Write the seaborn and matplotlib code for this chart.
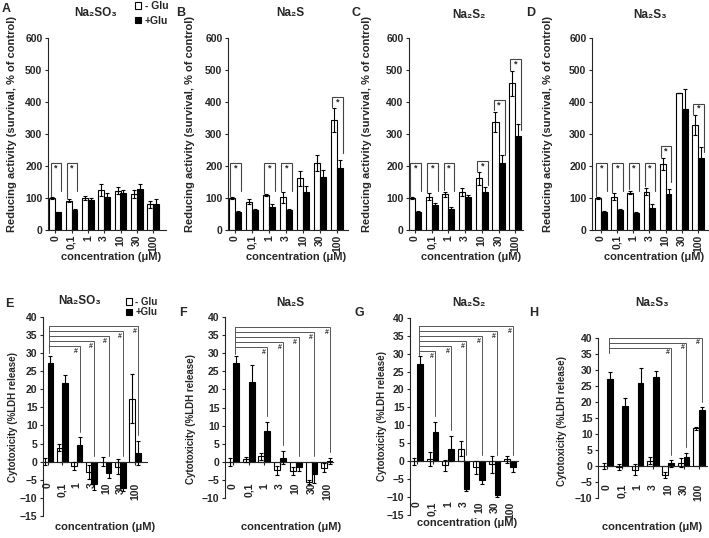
import matplotlib
matplotlib.use("Agg")
import matplotlib.pyplot as plt
from matplotlib.patches import Patch
import numpy as np
import pandas as pd
import seaborn as sns

FIG_W, FIG_H = 709, 538

concs = ["0", "0,1", "1", "3", "10", "30", "100"]
glu_levels = ["- Glu", "+Glu"]

# A-D: reducing activity (survival, % of control)
a_minus = [100, 92, 101, 125, 123, 112, 81]
a_minus_err = [2, 5, 6, 18, 10, 12, 11]
a_plus = [55, 62, 94, 104, 117, 127, 81]
a_plus_err = [2, 5, 7, 13, 8, 16, 15]

b_minus = [100, 88, 109, 102, 161, 209, 343]
b_minus_err = [2, 8, 4, 17, 24, 24, 37]
b_plus = [57, 63, 71, 62, 120, 165, 194]
b_plus_err = [3, 4, 10, 3, 16, 22, 25]

c_minus = [100, 104, 112, 119, 161, 338, 458]
c_minus_err = [2, 11, 8, 12, 19, 32, 39]
c_plus = [57, 78, 67, 104, 120, 209, 294]
c_plus_err = [3, 7, 5, 5, 15, 25, 37]

d_minus = [100, 104, 117, 120, 206, 429, 328]
d_minus_err = [2, 11, 6, 12, 19, 0, 31]
d_plus = [56, 62, 52, 70, 112, 377, 225]
d_plus_err = [3, 5, 4, 12, 15, 65, 35]

# E-H: cytotoxicity (%LDH release)
e_minus = [0, 3.9, -1.2, -2.8, 0, -1.4, 17.4]
e_minus_err = [1, 1, 1, 2, 1.3, 2, 6.8]
e_plus = [27.2, 21.8, 4.6, -6.1, -3.0, -7.3, 2.5]
e_plus_err = [2, 2.2, 2.1, 1.7, 1.6, 0.9, 3.3]

f_minus = [0, 0.7, 1.6, -2.3, -2.5, -5.5, -1.6]
f_minus_err = [1, 0.8, 1, 1.2, 1, 0.5, 1.2]
f_plus = [27.2, 22.0, 8.5, 1.2, -1.4, -3.4, 0.3]
f_plus_err = [2, 4.8, 2.5, 1.8, 1, 2.3, 0.8]

g_minus = [0, 0.7, -1.2, 3.5, -1.7, -0.9, 0.5]
g_minus_err = [1, 2, 1.4, 2, 1.8, 2.4, 1]
g_plus = [27.2, 8.1, 3.5, -7.7, -5.3, -9.3, -1.6]
g_plus_err = [2, 2.9, 3.5, 0.6, 1, 0.8, 1.5]

h_minus = [0, -0.3, -1.2, 1.6, -2.8, 1.0, 11.7]
h_minus_err = [1, 0.9, 1.6, 1.2, 0.9, 1.4, 0.5]
h_plus = [27.2, 18.8, 26.0, 27.8, 0.7, 2.8, 17.5]
h_plus_err = [2, 2.4, 4.6, 1.8, 1.0, 1.3, 0.7]

titles = {"A": "Na₂SO₃", "B": "Na₂S", "C": "Na₂S₂", "D": "Na₂S₃",
          "E": "Na₂SO₃", "F": "Na₂S", "G": "Na₂S₂", "H": "Na₂S₃"}

# significance: * (-Glu vs +Glu), # (+Glu vs +Glu at 0)
star_groups = {"A": ["0", "0,1"], "B": ["0", "1", "3", "100"],
               "C": ["0", "0,1", "1", "10", "30", "100"],
               "D": ["0", "0,1", "1", "3", "10", "100"]}
hash_groups = {"E": ["1", "3", "10", "30", "100"],
               "F": ["1", "3", "10", "30", "100"],
               "G": ["0,1", "1", "3", "10", "30", "100"],
               "H": ["10", "30", "100"]}

panels = {
    "A": (a_minus, a_minus_err, a_plus, a_plus_err),
    "B": (b_minus, b_minus_err, b_plus, b_plus_err),
    "C": (c_minus, c_minus_err, c_plus, c_plus_err),
    "D": (d_minus, d_minus_err, d_plus, d_plus_err),
    "E": (e_minus, e_minus_err, e_plus, e_plus_err),
    "F": (f_minus, f_minus_err, f_plus, f_plus_err),
    "G": (g_minus, g_minus_err, g_plus, g_plus_err),
    "H": (h_minus, h_minus_err, h_plus, h_plus_err),
}

# pixel layout: axis left, first group centre, group spacing, axis right, top px, bottom px, ylim
layout = {
    "A": (48, 55.3, 16.3, 166, 38, 230, (0, 600)),
    "B": (228, 235, 17.0, 348, 38, 230, (0, 600)),
    "C": (409, 415, 16.7, 523, 38, 230, (0, 600)),
    "D": (592, 600.8, 16.2, 708, 38, 230, (0, 600)),
    "E": (43, 47.7, 14.55, 147, 316.7, 516, (-15, 40)),
    "F": (225, 233, 15.7, 333, 316.7, 498.3, (-10, 40)),
    "G": (410, 417, 15.5, 518, 317.7, 515, (-15, 40)),
    "H": (598, 607, 15.3, 707, 337.7, 497.7, (-10, 40)),
}
xtick_pad = {"A": 1.5, "B": 1.5, "C": 1.5, "D": 1.5, "E": 13, "F": 13, "G": 27, "H": 11}
hash_top = {"E": 37.3, "F": 37.1, "G": 37.7, "H": 40.0}

letter_pos = {"A": (6, 9), "B": (181, 13), "C": (356, 13), "D": (531, 13),
              "E": (9, 304), "F": (183, 313), "G": (359, 313), "H": (534, 313)}
title_pos = {"A": (96, 13), "B": (290, 13), "C": (469, 15), "D": (650, 15),
             "E": (80, 301), "F": (290, 303), "G": (469, 303), "H": (652, 303)}
ylabel_pos = {"A": (12, 124), "B": (190, 124), "C": (367, 124), "D": (548, 124),
              "E": (13, 417), "F": (191, 419), "G": (382, 416), "H": (562, 421)}
xlabel_pos = {"A": (111, 257), "B": (296, 257), "C": (471, 257), "D": (654, 257),
              "E": (105, 527), "F": (291, 527), "G": (467, 523), "H": (652, 527)}

sns.set_style("ticks")
plt.rcParams["font.family"] = ["Liberation Sans", "DejaVu Sans"]
plt.rcParams["font.weight"] = "bold"
plt.rcParams["axes.linewidth"] = 0.8


def fx(x):
    return x / FIG_W


def fy(y):
    return 1 - y / FIG_H


fig = plt.figure(figsize=(FIG_W / 100, FIG_H / 100), dpi=100)

for name, (minus, minus_err, plus, plus_err) in panels.items():
    left, c0, sp, right, ytop, ybot, ylim = layout[name]
    ax = fig.add_axes([fx(left), fy(ybot), (right - left) / FIG_W, (ybot - ytop) / FIG_H])
    top_row = name in "ABCD"

    df = pd.DataFrame({
        "conc": concs * 2,
        "glu": [glu_levels[0]] * len(concs) + [glu_levels[1]] * len(concs),
        "value": list(minus) + list(plus),
    })
    width = 0.72 if top_row else 0.76
    sns.barplot(data=df, x="conc", y="value", hue="glu", order=concs, hue_order=glu_levels,
                palette={"- Glu": "white", "+Glu": "black"}, saturation=1, width=width,
                edgecolor="black", linewidth=0.8, errorbar=None, legend=False, ax=ax)

    bw = width / 2
    xw = np.array([p.get_x() + p.get_width() / 2 for p in ax.containers[0]])
    xb = np.array([p.get_x() + p.get_width() / 2 for p in ax.containers[1]])
    ax.errorbar(xw, minus, yerr=minus_err, fmt="none", ecolor="black", elinewidth=0.8,
                capsize=1.6, capthick=0.8, zorder=4)
    ax.errorbar(xb, plus, yerr=plus_err, fmt="none", ecolor="black", elinewidth=0.8,
                capsize=1.6, capthick=0.8, zorder=4)

    ax.set_xlim((left - c0) / sp, (right - c0) / sp)
    ax.set_ylim(*ylim)
    ax.set_xlabel("")
    ax.set_ylabel("")
    sns.despine(ax=ax)
    ax.tick_params(axis="y", length=2.5, width=0.8, pad=1.5, labelsize=7.5)
    ax.tick_params(axis="x", length=2, width=0.8, pad=xtick_pad[name], labelsize=7.5,
                   labelrotation=90)
    for lab in ax.get_xticklabels() + ax.get_yticklabels():
        lab.set_fontweight("bold")

    if top_row:
        ax.set_yticks(range(0, 601, 100))
        for c in star_groups[name]:
            i = concs.index(c)
            h = max(208, minus[i] + minus_err[i] + 36)
            xl = xw[i] - 0.3 * bw
            xr = xb[i] + 0.5 * bw
            left_end = minus[i] + minus_err[i] + 4
            right_end = max(0.58 * h, plus[i] + 20)
            ax.plot([xl, xl, xr, xr], [left_end, h, h, right_end], color="#444444",
                    lw=0.8, solid_joinstyle="miter", zorder=5)
            ax.text((xl + xr) / 2, h - 15, "*", ha="center", va="center", fontsize=6.5,
                    fontweight="bold")
    else:
        ax.spines["bottom"].set_position(("data", 0))
        ax.set_yticks(range(ylim[0], 41, 5))
        ylo, yhi = ylim
        px_per_unit = (ybot - ytop) / (yhi - ylo)
        step = 5.0 / px_per_unit
        sig = hash_groups[name]
        top = hash_top[name]
        x0 = xb[0] - 0.08
        for k, c in enumerate(reversed(sig)):
            i = concs.index(c)
            h = top - step * k
            rend = max(plus[i] + plus_err[i], 0) + 1.6
            ax.plot([x0, xb[i], xb[i]], [h, h, rend], color="#555555", lw=0.7,
                    solid_joinstyle="miter", zorder=5)
            ax.text(xb[i] - 0.1, h - 0.5, "#", ha="right", va="top", fontsize=5,
                    color="#333333")
        lowest = top - step * (len(sig) - 1)
        ax.plot([x0, x0], [top, max(lowest - 1.8, plus[0] + plus_err[0] + 0.4)],
                color="#555555", lw=0.7, zorder=5)

    lx, ly = letter_pos[name]
    fig.text(fx(lx), fy(ly), name, ha="center", va="center", fontsize=9, fontweight="bold")
    tx, ty = title_pos[name]
    fig.text(fx(tx), fy(ty), titles[name], ha="center", va="center", fontsize=8.5,
             fontweight="bold")
    yx, yy = ylabel_pos[name]
    ylab = "Reducing activity (survival, % of control)" if top_row else "Cytotoxicity (%LDH release)"
    fig.text(fx(yx), fy(yy), ylab, rotation=90, ha="center", va="center",
             fontsize=8 if top_row else 7, fontweight="bold")
    cx, cy = xlabel_pos[name]
    fig.text(fx(cx), fy(cy), "concentration (μM)", ha="center", va="center", fontsize=8,
             fontweight="bold")

handles = [Patch(facecolor="white", edgecolor="black", linewidth=0.8),
           Patch(facecolor="black", edgecolor="black", linewidth=0.8)]
fig.legend(handles, glu_levels, loc="upper left", bbox_to_anchor=(fx(135), fy(1)),
           frameon=False, handlelength=0.6, handleheight=0.6,
           handletextpad=0.35, labelspacing=0.45, borderpad=0, borderaxespad=0,
           prop={"weight": "bold", "size": 7.5})
fig.legend(handles, glu_levels, loc="upper left", bbox_to_anchor=(fx(126), fy(297)),
           frameon=False, handlelength=0.6, handleheight=0.6,
           handletextpad=0.35, labelspacing=0.05, borderpad=0, borderaxespad=0,
           prop={"weight": "bold", "size": 7})

fig.savefig("out.png", dpi=100)
